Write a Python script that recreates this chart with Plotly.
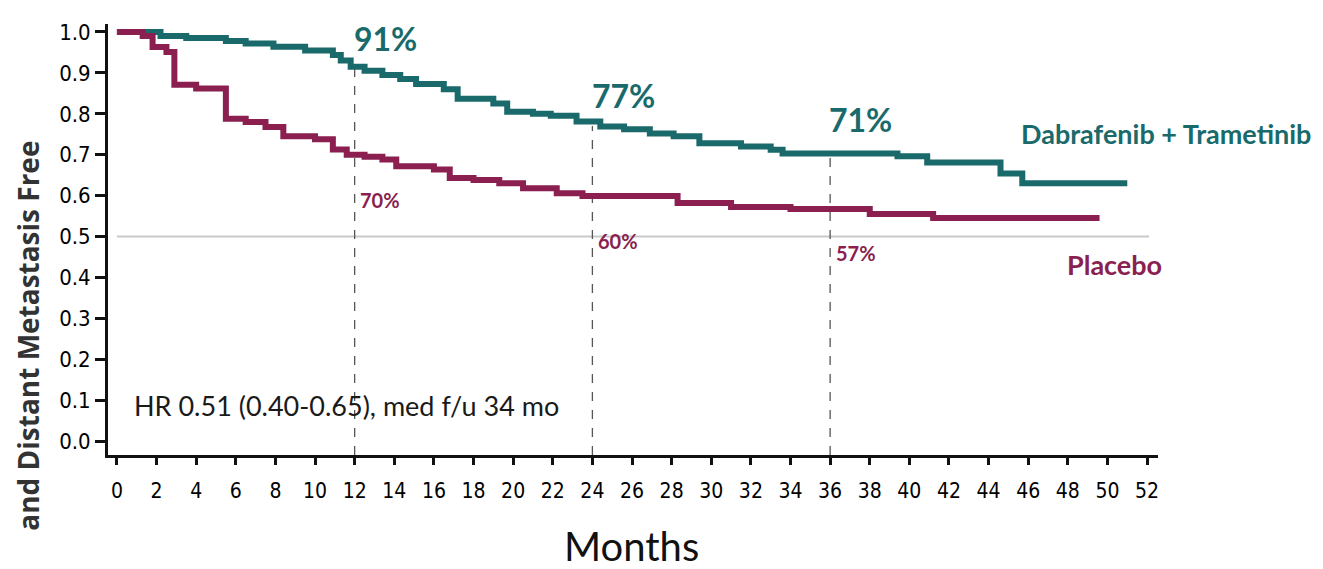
import plotly.graph_objects as go

# ---- data ----
dt_months = [0, 2.2, 3.5, 5.5, 6.5, 7.9, 9.5, 10.9, 11.3, 11.8, 12.5, 13.4, 14.3, 15.1, 16.5, 17.2,
             19.0, 19.7, 21.0, 21.9, 23.2, 24.4, 25.6, 26.9, 28.1, 29.4, 31.5, 33.0, 33.6, 39.4,
             40.9, 44.6, 45.7, 51.0]
dt_surv = [1.0, 0.99, 0.985, 0.978, 0.972, 0.964, 0.955, 0.944, 0.93, 0.915, 0.905, 0.895, 0.885,
           0.873, 0.86, 0.837, 0.825, 0.805, 0.80, 0.795, 0.781, 0.769, 0.762, 0.752, 0.745, 0.728,
           0.72, 0.712, 0.703, 0.696, 0.681, 0.654, 0.630, 0.630]

pbo_months = [0, 1.3, 1.8, 2.5, 2.9, 4.0, 5.5, 6.5, 7.5, 8.4, 10.0, 10.9, 11.6, 12.5, 13.4, 14.1,
              16.0, 16.8, 18.0, 19.3, 20.5, 22.2, 23.5, 28.3, 31.0, 34.0, 38.0, 41.2, 49.6]
pbo_surv = [1.0, 0.99, 0.963, 0.951, 0.871, 0.862, 0.788, 0.78, 0.768, 0.745, 0.738, 0.713, 0.70,
            0.695, 0.688, 0.672, 0.664, 0.643, 0.638, 0.63, 0.618, 0.606, 0.599, 0.582, 0.572,
            0.567, 0.555, 0.545, 0.545]

landmark_months = [12, 24, 36]
dt_landmark = [0.91, 0.77, 0.71]
pbo_landmark = [0.70, 0.60, 0.57]
dt_labels = ["91%", "77%", "71%"]
pbo_labels = ["70%", "60%", "57%"]

x_ticks = list(range(0, 53, 2))
y_ticks = [i / 10 for i in range(0, 11)]
y_ticktext = [f"{v:.1f}" for v in y_ticks]

TEAL = "#1a6a6c"
MAROON = "#8a1f50"
NARROW = "Liberation Sans Narrow, DejaVu Sans Condensed, Arial Narrow, sans-serif"

fig = go.Figure()

fig.add_trace(go.Scatter(x=dt_months, y=dt_surv, mode="lines", line=dict(color=TEAL, width=6, shape="hv"),
                         name="Dabrafenib + Trametinib", showlegend=False))
fig.add_trace(go.Scatter(x=pbo_months, y=pbo_surv, mode="lines", line=dict(color=MAROON, width=6, shape="hv"),
                         name="Placebo", showlegend=False))

# median reference line
fig.add_shape(type="line", xref="x", yref="y", x0=0, x1=52.1, y0=0.5, y1=0.5,
              line=dict(color="#c9c9c9", width=2), layer="below")

# landmark dashed lines and labels
for m, d, p, dl, pl in zip(landmark_months, dt_landmark, pbo_landmark, dt_labels, pbo_labels):
    fig.add_shape(type="line", xref="x", yref="y", x0=m, x1=m, y0=-0.034, y1=d,
                  line=dict(color="#555555", width=1.3, dash="dash"), layer="below")
    fig.add_annotation(x=m + 1.55, y=d + 0.075, xref="x", yref="y", text="<b>" + dl + "</b>", showarrow=False,
                       font=dict(family="Lato, sans-serif", size=32, color=TEAL), xanchor="center", yanchor="middle")
    fig.add_annotation(x=m + 1.3, y=p - 0.11, xref="x", yref="y", text="<b>" + pl + "</b>", showarrow=False,
                       font=dict(family="Lato, sans-serif", size=20, color=MAROON), xanchor="center", yanchor="middle")

fig.add_annotation(x=1.0076, y=0.746, xref="paper", yref="paper", text="<b>Dabrafenib + Trametinib</b>",
                   showarrow=False, font=dict(family="Lato, sans-serif", size=27, color=TEAL),
                   xanchor="center", yanchor="middle")
fig.add_annotation(x=0.959, y=0.443, xref="paper", yref="paper", text="<b>Placebo</b>",
                   showarrow=False, font=dict(family="Lato, sans-serif", size=27, color=MAROON),
                   xanchor="center", yanchor="middle")

fig.add_annotation(x=0.2276, y=0.1155, xref="paper", yref="paper", text="HR 0.51 (0.40-0.65), med f/u 34 mo",
                   showarrow=False, font=dict(family="Lato, sans-serif", size=27, color="#1a1a1a"),
                   xanchor="center", yanchor="middle")

fig.add_annotation(x=0.499, y=-0.212, xref="paper", yref="paper", text="Months",
                   showarrow=False, font=dict(family="Lato, sans-serif", size=40, color="#111111"),
                   xanchor="center", yanchor="middle")

fig.add_annotation(x=-0.077, y=0.277, xref="paper", yref="paper", text="<b>and Distant Metastasis Free</b>",
                   textangle=-90, showarrow=False, borderpad=0,
                   font=dict(family="Open Sans, sans-serif", size=28, color="#333333"),
                   xanchor="center", yanchor="middle")

fig.update_xaxes(range=[-0.45, 52.55], tickvals=x_ticks, ticks="outside", ticklen=7, tickwidth=2.5,
                 tickcolor="#111", showline=True, linecolor="#111", linewidth=3, showgrid=False, zeroline=False,
                 tickfont=dict(family=NARROW, size=21, color="#000"), ticklabelstandoff=8)
fig.update_yaxes(range=[-0.034, 1.0195], tickvals=y_ticks, ticktext=y_ticktext, ticks="outside", ticklen=10,
                 tickwidth=2.5, tickcolor="#111", showline=True, linecolor="#111", linewidth=3, showgrid=False,
                 zeroline=False, tickfont=dict(family=NARROW, size=22, color="#000"), ticklabelstandoff=0)

fig.update_layout(width=1323, height=569, margin=dict(l=100, r=173, t=14, b=122),
                  plot_bgcolor="white", paper_bgcolor="white", showlegend=False)

fig.write_html("out.html")
